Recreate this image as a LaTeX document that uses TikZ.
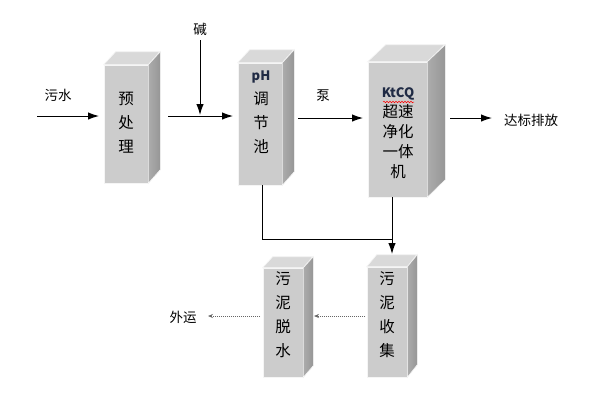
\documentclass[tikz,border=0pt]{standalone}
\usepackage{fontspec}
\setmainfont{Noto Sans CJK SC}
\usetikzlibrary{arrows.meta,decorations.pathmorphing,calc}
\definecolor{frontgray}{HTML}{CCCCCC}
\definecolor{topgray}{HTML}{D9D9D9}
\definecolor{sidedark}{HTML}{969696}
\definecolor{sidelight}{HTML}{ACACAC}
\definecolor{navy}{HTML}{1F2A44}
\tikzset{
  frontface/.style={fill=frontgray, draw=white!92!gray, line width=0.6pt, inner sep=0pt},
  topface/.style={fill=topgray, draw=white!92!gray, line width=0.6pt},
  sideface/.style={left color=sidelight, right color=sidedark, draw=white!92!gray, line width=0.6pt},
  boxlabel/.style={align=center, font=\fontsize{15.5}{24}\selectfont, inner sep=0pt},
  flowlabel/.style={font=\fontsize{13.5}{15}\selectfont, inner sep=0pt},
  flow/.style={-{Latex[length=11pt,width=7.5pt]}, line width=1pt, black},
  plainline/.style={line width=1pt, black},
  dotflow/.style={-{Stealth[length=5pt,width=4pt]}, densely dotted, line width=1pt, gray!80!black},
}
% name, x1, y1, x2, y2, dx, dy
\newcommand\cubebox[7]{%
  \node[frontface, minimum width={#4-#2}, minimum height={#5-#3}] (#1) at ({(#2+#4)/2},{(#3+#5)/2}) {};
  \path[topface] (#1.north west) -- ++(#6,-#7) -- ++({#4-#2},0) -- (#1.north east) -- cycle;
  \path[sideface] (#1.north east) -- ++(#6,-#7) -- ++(0,{#5-#3}) -- (#1.south east) -- cycle;
}
\begin{document}
\begin{tikzpicture}[x=1pt,y=-1pt]
\useasboundingbox (0,0) rectangle (596,392);
\fill[white] (0,0) rectangle (596,392);

\cubebox{b1}{104}{65}{148}{183}{12}{13}
\cubebox{b2}{238}{63}{282}{185}{12}{13}
\cubebox{b3}{368}{62}{427}{197}{18}{17}
\cubebox{b4}{263}{268}{303}{377}{10}{11}
\cubebox{b5}{367}{267}{407}{377}{10}{12}

\node[boxlabel] (t1) at (126,123) {预\\处\\理};
\node[boxlabel] (t2) at (261,112) {{\fontsize{13}{13}\selectfont\bfseries\color{navy}pH}\\调\\节\\池};
\node[boxlabel, font=\fontsize{15.5}{20}\selectfont] (t3) at (398,133) {{\fontsize{13}{13}\selectfont\bfseries\color{navy}KtCQ}\\超速\\净化\\一体\\机};
\draw[red, line width=0.5pt, decorate, decoration={snake, amplitude=0.8pt, segment length=3pt}] (383,102) -- (414,102);
\node[boxlabel] (t4) at (283,315) {污\\泥\\脱\\水};
\node[boxlabel] (t5) at (387,315) {污\\泥\\收\\集};

% labels
\node[flowlabel] (wushui) at (58,95) {污水};
\node[flowlabel] (jian) at (200,29) {碱};
\node[flowlabel] (beng) at (323,96) {泵};
\node[flowlabel] (dabiao) at (531,120) {达标排放};
\node[flowlabel] (waiyun) at (183,317) {外运};

% coordinates
\coordinate (inS) at (37,116);
\coordinate (inE) at (99,116);
\coordinate (m1S) at (168,116);
\coordinate (m1E) at (233,116);
\coordinate (jS) at (200,40);
\coordinate (jE) at (200,115);
\coordinate (m2S) at (298,118);
\coordinate (m2E) at (363,118);
\coordinate (oS) at (450,118);
\coordinate (oE) at (492,118);
\coordinate (d1) at (262,185);
\coordinate (d2) at (262,239);
\coordinate (d3) at (392,239);
\coordinate (d4) at (392,254);
\coordinate (c3) at (392,197);
\coordinate (s1S) at (365,316);
\coordinate (s1E) at (314,316);
\coordinate (s2S) at (260,316);
\coordinate (s2E) at (208,316);

\draw[flow] (inS) -- (inE);
\draw[flow] (m1S) -- (m1E);
\draw[flow] (jS) -- (jE);
\draw[flow] (m2S) -- (m2E);
\draw[flow] (oS) -- (oE);
\draw[plainline] (d1) -- (d2) -- (d3);
\draw[flow] (c3) -- (d4);
\draw[dotflow] (s1S) -- (s1E);
\draw[dotflow] (s2S) -- (s2E);
\end{tikzpicture}
\end{document}
